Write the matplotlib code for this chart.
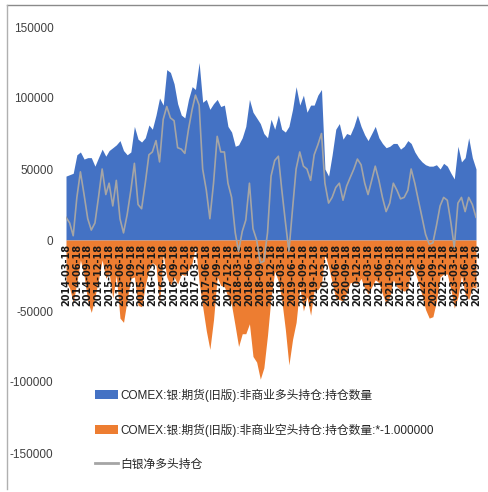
import matplotlib
matplotlib.use("Agg")
import matplotlib.pyplot as plt
from matplotlib.patches import Patch
from matplotlib.lines import Line2D
import pandas as pd

# Monthly observations (18th of each month), 2014-03 .. 2023-09
dates = pd.date_range("2014-03-01", periods=115, freq="MS") + pd.Timedelta(days=17)

# Non-commercial long positions (contracts)
long_pos = [
    45000, 46000, 47000, 60000, 62000, 57000, 58000, 58000, 52000, 58000,
    64000, 59000, 63000, 65000, 67000, 70000, 63000, 60000, 62000, 80000,
    71000, 69000, 72000, 81000, 78000, 88000, 100000, 95000, 120000, 118000,
    110000, 96000, 88000, 86000, 99000, 108000, 106000, 125000, 97000, 99000,
    92000, 96000, 99000, 94000, 95000, 80000, 76000, 66000, 67000, 72000,
    80000, 99000, 90000, 86000, 82000, 75000, 72000, 85000, 78000, 88000,
    78000, 76000, 80000, 92000, 108000, 95000, 102000, 90000, 95000, 95000,
    102000, 106000, 50000, 45000, 60000, 78000, 82000, 71000, 75000, 74000,
    80000, 88000, 80000, 74000, 70000, 75000, 80000, 72000, 68000, 65000,
    66000, 68000, 68000, 64000, 66000, 70000, 68000, 62000, 58000, 55000,
    53000, 52000, 52000, 53000, 50000, 54000, 52000, 47000, 43000, 66000,
    55000, 58000, 72000, 58000, 50000,
]

# Non-commercial short positions (contracts)
short_pos = [
    29000, 34000, 44000, 30000, 14000, 25000, 43000, 51000, 40000, 28000,
    14000, 27000, 23000, 41000, 25000, 55000, 58000, 42000, 27000, 26000,
    46000, 47000, 32000, 21000, 16000, 18000, 45000, 10000, 26000, 32000,
    26000, 31000, 24000, 25000, 21000, 16000, 4000, 30000, 47000, 64000,
    77000, 56000, 26000, 32000, 33000, 40000, 46000, 61000, 75000, 66000,
    66000, 59000, 82000, 86000, 98000, 90000, 67000, 40000, 22000, 29000,
    42000, 63000, 88000, 70000, 58000, 33000, 50000, 40000, 53000, 35000,
    35000, 31000, 10000, 19000, 30000, 41000, 42000, 43000, 37000, 30000,
    30000, 31000, 27000, 34000, 38000, 33000, 28000, 30000, 38000, 45000,
    40000, 28000, 33000, 35000, 36000, 35000, 18000, 22000, 30000, 39000,
    49000, 55000, 54000, 43000, 26000, 24000, 24000, 35000, 48000, 40000,
    25000, 38000, 42000, 33000, 34000,
]

net_pos = [l - s for l, s in zip(long_pos, short_pos)]
neg_short = [-s for s in short_pos]

tick_dates = pd.date_range("2014-03-01", "2023-09-01", freq="3MS") + pd.Timedelta(days=17)
tick_labels = [d.strftime("%Y-%m-%d") for d in tick_dates]
y_ticks = [150000, 100000, 50000, 0, -50000, -100000, -150000]

labels = [
    "COMEX:银:期货(旧版):非商业多头持仓:持仓数量",
    "COMEX:银:期货(旧版):非商业空头持仓:持仓数量:*-1.000000",
    "白银净多头持仓",
]
c_long, c_short, c_net = "#4472C4", "#ED7D31", "#A5A5A5"

fig = plt.figure(figsize=(4.89, 4.92), dpi=100)
ax = fig.add_axes([66 / 489, 1 - 453 / 492, 410 / 489, 426 / 492])

ax.fill_between(dates, 0, long_pos, color=c_long, lw=0, zorder=1)
ax.fill_between(dates, 0, neg_short, color=c_short, lw=0, zorder=1)
ax.plot(dates, net_pos, color=c_net, lw=1.2, zorder=3)

ax.set_xlim(dates[0], dates[-1])
ax.set_ylim(-150000, 150000)
ax.set_yticks(y_ticks)
ax.set_yticklabels([str(v) for v in y_ticks])
ax.set_xticks(tick_dates)
ax.set_xticklabels(tick_labels)
ax.tick_params(axis="both", length=0)
ax.tick_params(axis="y", pad=9)
ax.tick_params(axis="x", pad=3, labelrotation=90)
ax.spines["bottom"].set_position(("data", 0))
for sp in ax.spines.values():
    sp.set_visible(False)
ax.patch.set_visible(False)

for t in ax.get_yticklabels():
    t.set_fontfamily("Liberation Sans")
    t.set_fontsize(8.5)
    t.set_color("#404040")
for t in ax.get_xticklabels():
    t.set_fontfamily("DejaVu Sans")
    t.set_fontsize(7)
    t.set_fontweight("bold")
    t.set_color("#1a1a1a")
    t.set_rotation(90)
    t.set_va("top")
    t.set_ha("center")

handles = [
    Patch(facecolor=c_long, edgecolor="none"),
    Patch(facecolor=c_short, edgecolor="none"),
    Line2D([0], [0], color=c_net, lw=2),
]
leg = ax.legend(handles, labels, loc="upper left", bbox_to_anchor=(84 / 489, 1 - 378 / 492),
                bbox_transform=fig.transFigure, frameon=False, handlelength=2.0,
                handleheight=0.8, handletextpad=0.2, labelspacing=1.85,
                prop={"family": ["Liberation Sans", "Noto Sans CJK SC"], "size": 8.5})
for t in leg.get_texts():
    t.set_color("#262626")

# outer border lines
fig.add_artist(Line2D([7 / 489, 1], [1 - 5 / 492, 1 - 5 / 492], color="#8a8a8a", lw=1,
                      transform=fig.transFigure))
fig.add_artist(Line2D([7 / 489, 7 / 489], [1 - 5 / 492, 1 - 489 / 492], color="#b0b0b0", lw=1,
                      transform=fig.transFigure))

fig.savefig("out.png", dpi=100)
